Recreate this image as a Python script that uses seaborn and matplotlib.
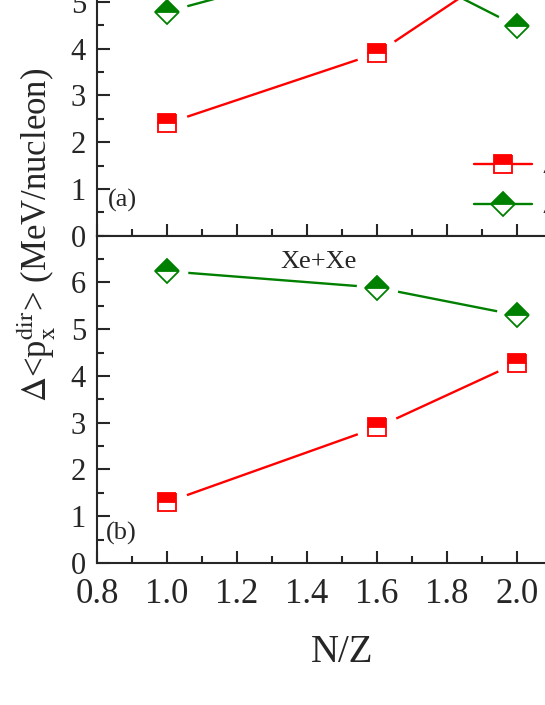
import matplotlib
matplotlib.use('Agg')
import matplotlib.pyplot as plt
import seaborn as sns
from matplotlib.ticker import MultipleLocator, FormatStrFormatter
from matplotlib.lines import Line2D

# data
nz = [1.0, 1.6, 2.0]
a_red = [2.40, 3.90, 5.90]
a_green = [4.79, 6.00, 4.48]
b_red = [1.30, 2.90, 4.28]
b_green = [6.24, 5.89, 5.30]
legend_labels = [r'$\Delta$<p$_\mathrm{x}^\mathrm{dir}$> (n-p)',
                 r'$\Delta$<p$_\mathrm{x}^\mathrm{dir}$> ($^3$H-$^3$He)']

sns.set_style('ticks')
plt.rcParams['font.family'] = ['Liberation Serif', 'DejaVu Serif']
plt.rcParams['mathtext.fontset'] = 'stix'

red = '#ff0000'
green = '#008000'

fig = plt.figure(figsize=(5.45, 7.05), dpi=100)
# axes run past the right/top edge, like the cropped original
ax_a = fig.add_axes([0.178, 0.6657, 0.899, 0.4643])
ax_b = fig.add_axes([0.178, 0.2014, 0.899, 0.4643])


def marker_style(color, marker):
    return dict(color=color, marker=marker, markersize=13 if marker == 's' else 12.5,
                fillstyle='top', markerfacecolor=color, markerfacecoloralt='white',
                markeredgecolor=color, markeredgewidth=1.3)


def draw(ax, y, color, marker):
    # line, then a white gap round each point (Origin style), then the symbols
    sns.lineplot(x=nz, y=y, ax=ax, color=color, lw=1.7, zorder=2)
    sns.scatterplot(x=nz, y=y, ax=ax, color='white', s=30 ** 2, marker='o',
                    linewidth=0, zorder=2.5)
    ax.plot(nz, y, ls='none', zorder=3, **marker_style(color, marker))


draw(ax_a, a_red, red, 's')
draw(ax_a, a_green, green, 'D')
draw(ax_b, b_red, red, 's')
draw(ax_b, b_green, green, 'D')

for ax in (ax_a, ax_b):
    ax.set_xlim(0.8, 2.2)
    ax.set_ylim(0, 7)
    ax.xaxis.set_major_locator(MultipleLocator(0.2))
    ax.xaxis.set_minor_locator(MultipleLocator(0.1))
    ax.yaxis.set_major_locator(MultipleLocator(1))
    ax.yaxis.set_minor_locator(MultipleLocator(0.5))
    ax.tick_params(which='both', direction='in', width=1.5, top=False, right=False)
    ax.tick_params(which='major', length=9)
    ax.tick_params(which='minor', length=5)
    ax.tick_params(axis='y', labelsize=22, pad=8)
    ax.tick_params(axis='x', labelsize=25, pad=11)
    for s in ax.spines.values():
        s.set_linewidth(1.5)
    ax.set_xlabel('')
    ax.set_ylabel('')

ax_a.tick_params(axis='x', labelbottom=False)
ax_b.set_yticks(range(0, 7))
ax_b.xaxis.set_major_formatter(FormatStrFormatter('%.1f'))

ax_a.text(0.83, 0.75, '(a)', fontsize=19, ha='left', va='center')
ax_b.text(0.825, 0.64, '(b)', fontsize=19, ha='left', va='center')
ax_b.text(1.434, 6.44, 'Xe+Xe', fontsize=19, ha='center', va='center')

handles = [Line2D([], [], lw=1.7, **marker_style(red, 's')),
           Line2D([], [], lw=1.7, **marker_style(green, 'D'))]
ax_a.legend(handles, legend_labels, loc='upper left',
            bbox_to_anchor=(474 / 545, 1 - 148 / 705),
            bbox_transform=fig.transFigure, frameon=False, fontsize=21,
            borderpad=0, borderaxespad=0, handlelength=2.0,
            handletextpad=0.3, labelspacing=0.12)

fig.text(0.066, 1 - 235 / 705, r'$\Delta$<p$_\mathrm{x}^\mathrm{dir}$> (MeV/nucleon)',
         rotation=90, fontsize=25, ha='center', va='center')
fig.text(342 / 545, 1 - 653 / 705, 'N/Z', fontsize=28, ha='center', va='center')

fig.savefig('out.png', dpi=100)
